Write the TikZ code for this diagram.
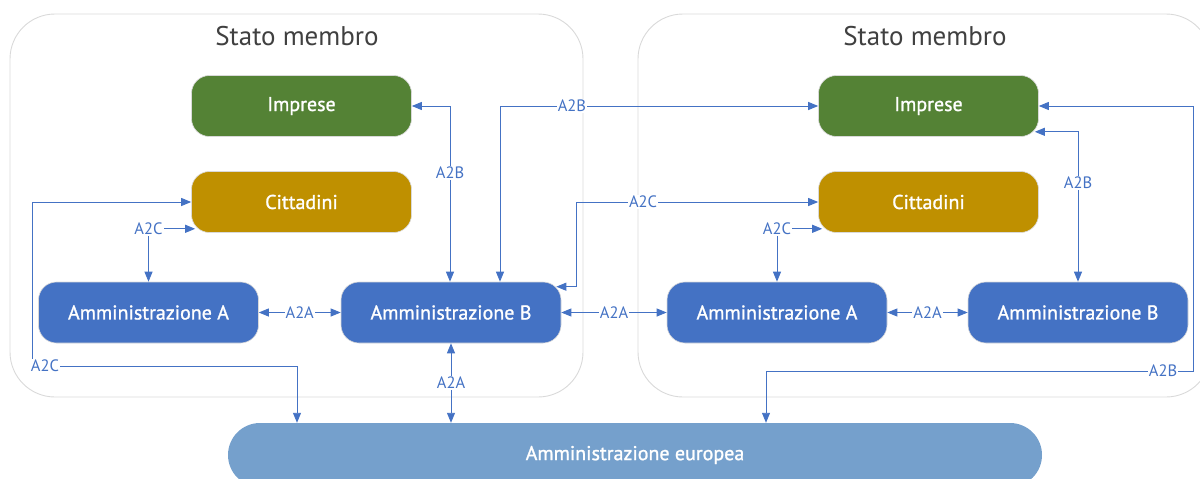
\documentclass[tikz,border=0pt]{standalone}
\usepackage{fontspec}
\setmainfont{PT Sans}
\newfontfamily\boxfont[FakeBold=1.2]{PT Sans}
\usetikzlibrary{arrows.meta,calc}
\definecolor{cgreen}{HTML}{548235}
\definecolor{cgold}{HTML}{BF9000}
\definecolor{cblue}{HTML}{4472C4}
\definecolor{ceu}{HTML}{75A0CC}
\definecolor{cframe}{HTML}{D9D9D9}
\definecolor{ctitle}{HTML}{404040}
\tikzset{
  frame/.style={draw=cframe, line width=0.9pt, rounded corners=45pt},
  title/.style={text=ctitle, font=\fontsize{27}{30}\selectfont},
  box/.style={rounded corners=18pt, minimum width=220pt, minimum height=61pt,
    text=white, font=\boxfont\fontsize{20}{24}\selectfont, draw=white!85!black, line width=0.6pt, inner sep=0pt},
  imp/.style={box, fill=cgreen},
  cit/.style={box, fill=cgold},
  adm/.style={box, fill=cblue},
  eustyle/.style={rounded corners=32pt, minimum width=814pt, minimum height=64pt,
    fill=ceu, text=white, font=\boxfont\fontsize{20}{24}\selectfont, inner sep=0pt},
  lab/.style={fill=white, text=cblue, inner sep=1pt, font=\fontsize{16.5}{18}\selectfont},
  dbl/.style={draw=cblue, line width=0.9pt, {Triangle[length=10pt,width=8pt]}-{Triangle[length=10pt,width=8pt]}},
}
\begin{document}
\begin{tikzpicture}[x=1pt,y=-1pt]
\useasboundingbox (0,0) rectangle (1200,479);
% containers
\draw[frame] (10,14) rectangle (583,397);
\draw[frame] (638,14) rectangle (1211,397);
\node[title] (tL) at (297,36) {Stato membro};
\node[title] (tR) at (925,36) {Stato membro};
% nodes
\node[imp] (impL) at (301.5,106) {Imprese};
\node[cit] (citL) at (301.5,202) {Cittadini};
\node[adm] (aaL) at (148.5,312.5) {Amministrazione A};
\node[adm] (abL) at (451,312.5) {Amministrazione B};
\node[imp] (impR) at (928.5,106) {Imprese};
\node[cit] (citR) at (928.5,202) {Cittadini};
\node[adm] (aaR) at (777,312.5) {Amministrazione A};
\node[adm] (abR) at (1078,312.5) {Amministrazione B};
\node[eustyle] (eu) at (635,455) {Amministrazione europea};
% connectors
\draw[dbl] (impL.east) -| node[lab,pos=0.69] (l1) {A2B} ([xshift=-1]abL.north);
\draw[dbl] ([xshift=49]abL.north) |- node[lab,pos=0.613] (l2) {A2B} (impR.west);
\draw[dbl] ([shift={(-5,5)}]abL.north east) -- ++(20,0) |- node[lab,pos=0.638] (l3) {A2C} (citR.west);
\draw[dbl] (citL.west) -| (32,366) -| ([xshift=-338]eu.north);
\node[lab] (l4) at (45,366) {A2C};
\draw[dbl] (aaL.north) |- node[lab,pos=0.5] (l5) {A2C} ([shift={(4,-4)}]citL.south west);
\draw[dbl] (aaL) -- node[lab] (l6) {A2A} (abL);
\draw[dbl] (abL.south) -- node[lab] (l7) {A2A} (eu.north -| abL.south);
\draw[dbl] (abL) -- node[lab] (l8) {A2A} (aaR);
\draw[dbl] (aaR) -- node[lab] (l9) {A2A} (abR);
\draw[dbl] (aaR.north) |- node[lab,pos=0.5] (l10) {A2C} ([shift={(4,-4)}]citR.south west);
\draw[dbl] ([shift={(-4,-5)}]impR.south east) -| node[lab,pos=0.67] (l11) {A2B} (abR.north);
\draw[dbl] (impR.east) -| (1193,371) -| ([xshift=131]eu.north);
\node[lab] (l12) at (1163,371) {A2B};
\end{tikzpicture}
\end{document}
